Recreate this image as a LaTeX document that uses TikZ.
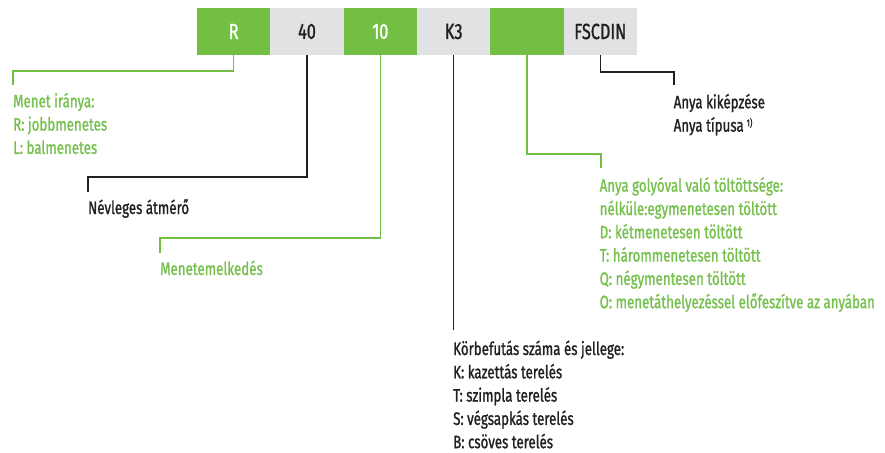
\documentclass[tikz,border=0pt]{standalone}
\usepackage{fontspec}
\setmainfont{Fira Sans}[FakeStretch=0.74, FakeBold=1.2]
\definecolor{boxgreen}{HTML}{72BF44}
\definecolor{boxgray}{HTML}{E1E2E4}
\definecolor{txtgreen}{HTML}{76C04E}
\definecolor{txtdark}{HTML}{231F20}
\tikzset{
  cell/.style={minimum width=73.4pt, minimum height=47pt, inner sep=0pt, outer sep=0pt,
    font=\fontsize{22}{26}\selectfont},
  gcell/.style={cell, fill=boxgreen, text=white},
  ycell/.style={cell, fill=boxgray, text=txtdark},
  gline/.style={draw=boxgreen, line width=1.3pt},
  dline/.style={draw=txtdark, line width=1.3pt},
  lbl/.style={anchor=base west, inner sep=0pt, font=\fontsize{18}{23.3}\selectfont},
  glbl/.style={lbl, text=txtgreen},
  dlbl/.style={lbl, text=txtdark},
}
\newcommand{\lines}[1]{\begin{tabular}[t]{@{}l@{}}#1\end{tabular}}
\begin{document}
\begin{tikzpicture}[x=1pt,y=-1pt]
\useasboundingbox (0,0) rectangle (885,452);
\node[gcell] (r)  at (233.7,31.5) {R};
\node[ycell] (d)  at (307.0,31.5) {40};
\node[gcell] (p)  at (380.3,31.5) {10};
\node[ycell] (k)  at (453.7,31.5) {K3};
\node[gcell] (e)  at (527.0,31.5) {};
\node[ycell] (f)  at (600.3,31.5) {FSCDIN};

\node[glbl] (tr) at (13,107.3) {\lines{Menet iránya:\\R: jobbmenetes\\L: balmenetes}};
\node[dlbl] (td) at (88,214) {Névleges átmérő};
\node[glbl] (tp) at (160,275) {Menetemelkedés};
\node[dlbl] (tk) at (453,355) {\lines{Körbefutás száma és jellege:\\K: kazettás terelés\\T: szimpla terelés\\S: végsapkás terelés\\B: csöves terelés}};
\node[glbl] (te) at (599.5,191.7) {\lines{Anya golyóval való töltöttsége:\\nélküle:egymenetesen töltött\\D: kétmenetesen töltött\\T: hárommenetesen töltött\\Q: négymentesen töltött\\O: menetáthelyezéssel előfeszítve az anyában}};
\node[dlbl] (tf) at (673.5,108.3) {\lines{Anya kiképzése\\Anya típusa\,\raisebox{0.55ex}{\fontsize{10}{12}\selectfont 1)}}};

\coordinate (cr) at (13,85);
\coordinate (cd) at (88,192);
\coordinate (cp) at (160,253);
\coordinate (ck) at (453.7,330);
\coordinate (ce) at (601,168);
\coordinate (cf) at (674,85);

\draw[gline] (r.south) -- ++(0,16) -| (cr);
\draw[dline] (d.south) -- ++(0,122) -| (cd);
\draw[gline] (p.south) -- ++(0,183) -| (cp);
\draw[dline] (k.south) -- (ck);
\draw[gline] (e.south) -- ++(0,99) -| (ce);
\draw[dline] (f.south) -- ++(0,17) -| (cf);
\end{tikzpicture}
\end{document}
